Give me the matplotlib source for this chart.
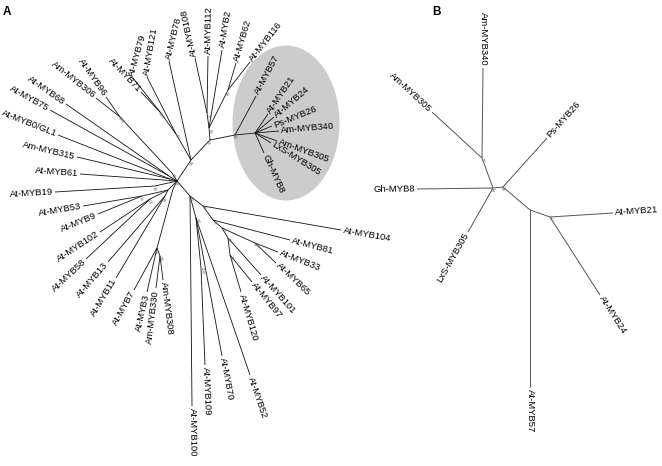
import math
import matplotlib.pyplot as plt
from matplotlib.patches import Ellipse

plt.rcParams['font.family'] = ['Liberation Sans', 'DejaVu Sans']

# --- Painel A: nós internos e pontas (layout da árvore em pixels) ---
nodes_a = {
    'H': (177, 181),
    'u1': (172, 173), 'u_am': (120, 117), 'u2': (169, 176), 'u3': (170, 179), 'l68': (155, 186),
    'l1': (168, 190), 'l57': (142, 196), 'l60': (150, 199), 'l2': (165, 196),
    'l3': (173, 189), 'l46': (157, 248), 'l66': (160, 256),
    'N94': (191, 160), 'N49': (176, 134), 'N100u': (160, 112), 'N67': (210, 140), 'N65': (209, 128),
    'N72': (207, 113), 'N85': (228, 90), 'N98': (235, 135), 'Nc': (255, 133),
    'N78': (190, 196), 'N82': (196, 218), 'N100b': (201, 268), 'N71': (203, 206), 'N77': (213, 220),
    'N75': (222, 228), 'N100c': (255, 243), 'N49r': (228, 238), 'N56': (230, 255),
    'At-MYB19': (55, 192), 'At-MYB61': (80, 174), 'Am-MYB315': (77, 157), 'At-MYB0/GL1': (58, 135),
    'At-MYB75': (50, 110), 'At-MYB68': (66, 104), 'Am-MYB306': (96, 98), 'At-MYB96': (106, 97),
    'At-MYB53': (83, 206), 'At-MYB9': (98, 214), 'At-MYB102': (100, 232), 'At-MYB58': (86, 259),
    'At-MYB13': (108, 262), 'At-MYB11': (116, 278), 'At-MYB7': (134, 290), 'At-MYB3': (147, 292),
    'Am-MYB330': (156, 288), 'Am-MYB308': (163, 280),
    'At-MYB71': (141, 92), 'At-MYB79': (133, 78), 'At-MYB121': (147, 77), 'At-MYB78': (169, 61),
    'At-MYB108': (195, 58), 'At-MYB112': (208, 56), 'At-MYB2': (222, 50), 'At-MYB62': (236, 63),
    'At-MYB116': (250, 62),
    'At-MYB57': (256, 96), 'At-MYB21': (268, 114), 'At-MYB24': (274, 117), 'Ps-MYB26': (272, 126),
    'Am-MYB340': (279, 131), 'Am-MYB305': (277, 141), 'LxS-MYB305': (271, 143), 'Gh-MYB8': (264, 153),
    'At-MYB104': (341, 230), 'At-MYB81': (290, 240), 'At-MYB33': (278, 252), 'At-MYB65': (276, 263),
    'At-MYB101': (261, 275), 'At-MYB97': (252, 282), 'At-MYB120': (241, 292), 'At-MYB52': (250, 375),
    'At-MYB70': (222, 356), 'At-MYB109': (205, 365), 'At-MYB100': (192, 406),
}

edges_a = [
    ('H', 'u1'), ('u1', 'u_am'), ('u_am', 'Am-MYB306'), ('u_am', 'At-MYB96'),
    ('H', 'u2'), ('u2', 'At-MYB68'), ('u2', 'At-MYB75'),
    ('H', 'u3'), ('u3', 'At-MYB0/GL1'), ('u3', 'Am-MYB315'),
    ('H', 'At-MYB61'), ('H', 'l68'), ('l68', 'At-MYB19'),
    ('H', 'l1'), ('l1', 'l57'), ('l57', 'At-MYB53'), ('l57', 'At-MYB9'),
    ('l1', 'l60'), ('l60', 'At-MYB102'), ('l60', 'At-MYB58'),
    ('l1', 'l2'), ('l2', 'At-MYB13'), ('l2', 'At-MYB11'),
    ('H', 'l3'), ('l3', 'l46'), ('l46', 'At-MYB7'), ('l46', 'At-MYB3'), ('l46', 'l66'),
    ('l66', 'Am-MYB330'), ('l66', 'Am-MYB308'),
    ('H', 'N94'), ('N94', 'N49'), ('N49', 'N100u'), ('N100u', 'At-MYB71'), ('N100u', 'At-MYB79'),
    ('N49', 'At-MYB121'), ('N94', 'At-MYB78'), ('N94', 'N67'), ('N67', 'N65'), ('N65', 'N72'),
    ('N72', 'At-MYB108'), ('N72', 'At-MYB112'), ('N65', 'At-MYB2'), ('N65', 'N85'),
    ('N85', 'At-MYB62'), ('N85', 'At-MYB116'),
    ('N67', 'N98'), ('N98', 'At-MYB57'), ('N98', 'Nc'),
    ('Nc', 'At-MYB21'), ('Nc', 'At-MYB24'), ('Nc', 'Ps-MYB26'), ('Nc', 'Am-MYB340'),
    ('Nc', 'Am-MYB305'), ('Nc', 'LxS-MYB305'), ('Nc', 'Gh-MYB8'),
    ('H', 'N78'), ('N78', 'At-MYB100'), ('N78', 'N82'), ('N82', 'N100b'), ('N100b', 'At-MYB109'),
    ('N82', 'At-MYB70'), ('N82', 'At-MYB52'),
    ('N78', 'N71'), ('N71', 'At-MYB104'), ('N71', 'N77'), ('N77', 'At-MYB81'), ('N77', 'N75'),
    ('N75', 'N100c'), ('N100c', 'At-MYB33'), ('N100c', 'At-MYB65'),
    ('N75', 'N49r'), ('N49r', 'At-MYB101'), ('N49r', 'N56'), ('N56', 'At-MYB97'), ('N56', 'At-MYB120'),
]

boot_a = {
    'H': '83', 'u1': '78', 'u_am': '100', 'u2': '77', 'u3': '19', 'l68': '68', 'l57': '57',
    'l60': '60', 'l2': '61', 'l46': '46', 'l66': '66', 'N94': '94', 'N49': '49', 'N100u': '100',
    'N67': '67', 'N65': '65', 'N72': '72', 'N85': '85', 'N98': '98', 'N78': '78', 'N82': '82',
    'N100b': '100', 'N71': '71', 'N77': '77', 'N75': '73', 'N100c': '100', 'N49r': '49', 'N56': '56',
}

# rótulos que no original não seguem o ângulo do ramo
rot_fix_a = {'At-MYB79': 74, 'At-MYB121': 80, 'At-MYB78': 76}

# --- Painel B ---
nodes_b = {
    'B1': (482, 158), 'B2': (493, 188), 'B3': (503, 187), 'B4': (530, 210), 'B5': (550, 217),
    'Am-MYB340': (483, 68), 'Am-MYB305': (432, 112), 'Gh-MYB8': (417, 189), 'LxS-MYB305': (468, 232),
    'Ps-MYB26': (547, 138), 'At-MYB57': (530, 387), 'At-MYB21': (613, 213), 'At-MYB24': (600, 295),
}
edges_b = [
    ('B2', 'B1'), ('B1', 'Am-MYB340'), ('B1', 'Am-MYB305'), ('B2', 'Gh-MYB8'), ('B2', 'LxS-MYB305'),
    ('B2', 'B3'), ('B3', 'Ps-MYB26'), ('B3', 'B4'), ('B4', 'At-MYB57'), ('B4', 'B5'),
    ('B5', 'At-MYB21'), ('B5', 'At-MYB24'),
]
boot_b = {'B1': '57', 'B2': '47', 'B3': '58', 'B5': '75'}
rot_fix_b = {'Am-MYB340': -90}


def draw_tree(ax, nodes, edges, boot, color, lw, rot_fix):
    parents = {c: p for p, c in edges}
    internal = set(p for p, c in edges)
    for p, c in edges:
        (x1, y1), (x2, y2) = nodes[p], nodes[c]
        ax.plot([x1, x2], [y1, y2], color=color, lw=lw, solid_capstyle='butt')
    for c, p in parents.items():
        if c in internal:
            continue
        (x1, y1), (x2, y2) = nodes[p], nodes[c]
        dx, dy = x2 - x1, y2 - y1
        L = math.hypot(dx, dy)
        ang = math.degrees(math.atan2(-dy, dx))
        tx, ty = x2 + 2 * dx / L, y2 + 2 * dy / L
        if c in rot_fix:
            rot = rot_fix[c]
            # texto que aponta para longe da ponta começa nela, senão termina nela
            ha = 'left' if math.cos(math.radians(rot - ang)) > 0 else 'right'
        elif ang > 120 or ang < -90:
            rot = ang - 180 if ang > 0 else ang + 180
            ha = 'right'
        else:
            rot, ha = ang, 'left'
        ax.text(tx, ty, c, rotation=rot, rotation_mode='anchor', ha=ha, va='center',
                fontsize=6.8, color='black')
    for n, v in boot.items():
        x2, y2 = nodes[n]
        x1, y1 = nodes[parents[n]] if n in parents else (x2 - 1, y2)
        ang = math.degrees(math.atan2(-(y2 - y1), x2 - x1))
        if ang > 90 or ang < -90:
            ang += 180
        ax.text(x2 + 1, y2 + 3, v, rotation=ang, rotation_mode='anchor', ha='center',
                va='center', fontsize=3.2, color='#666666')


fig = plt.figure(figsize=(6.62, 4.66), dpi=100)
ax = fig.add_axes([0, 0, 1, 1])
ax.set_xlim(0, 662)
ax.set_ylim(466, 0)
ax.axis('off')

ax.add_patch(Ellipse((286, 123), 107, 155, angle=0, color='#cccccc', lw=0, zorder=0))

draw_tree(ax, nodes_a, edges_a, boot_a, '#111111', 0.6, rot_fix_a)
draw_tree(ax, nodes_b, edges_b, boot_b, '#555555', 0.7, rot_fix_b)

ax.text(3, 12, 'A', fontsize=8.5, fontweight='bold', va='center')
ax.text(432, 12, 'B', fontsize=8.5, fontweight='bold', va='center')

plt.savefig('out.png', dpi=100)
